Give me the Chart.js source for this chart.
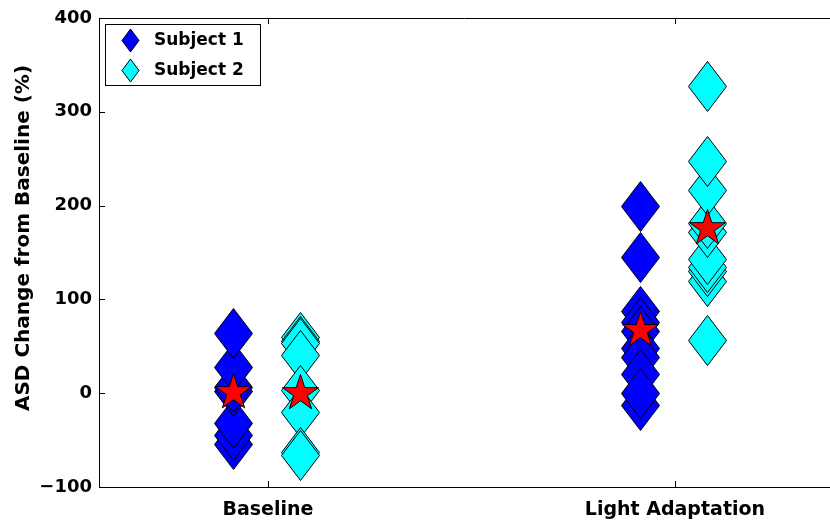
<!DOCTYPE html>
<html>
<head>
<meta charset="utf-8">
<script src="https://cdn.jsdelivr.net/npm/chart.js@4"></script>
<style>
  html, body { margin: 0; padding: 0; background: #fff; overflow: hidden; }
  canvas { display: block; }
</style>
</head>
<body>
<canvas id="asdChart" width="830" height="521"></canvas>
<script>
const categories = ['Baseline', 'Light Adaptation'];
const seriesNames = ['Subject 1', 'Subject 2'];
const yTicks = [-100, 0, 100, 200, 300, 400];

// ASD change (%) per trial
const subject1Baseline = [-54, -45, -32, 2, 7, 28, 64];
const subject1Light = [200, 145, 88, 76, 66, 48, 39, 20, -13, 0];
const subject2Baseline = [60, 56, 53, 41, 3, -20, -63, -66];
const subject2Light = [57, 120, 130, 135, 143, 172, 181, 217, 248, 327];

// means (red stars)
const subject1Means = [1, 67];
const subject2Means = [0, 176];

const FONT = 'DejaVu Sans';
const subjectOffsets = [-0.087, 0.078];
const colors = ['#0000ff', '#00ffff'];

function toPoints(values, catIndex, offset) {
    return values.map(v => ({ x: catIndex + 1 + offset, y: v }));
}

const subject1Points = toPoints(subject1Baseline, 0, subjectOffsets[0])
    .concat(toPoints(subject1Light, 1, subjectOffsets[0]));
const subject2Points = toPoints(subject2Baseline, 0, subjectOffsets[1])
    .concat(toPoints(subject2Light, 1, subjectOffsets[1]));
const meanPoints = subject1Means.map((m, i) => ({ x: i + 1 + subjectOffsets[0], y: m }))
    .concat(subject2Means.map((m, i) => ({ x: i + 1 + subjectOffsets[1], y: m })));

// shape paths
function diamondPath(ctx, x, y, w, h) {
    ctx.beginPath();
    ctx.moveTo(x, y - h / 2);
    ctx.lineTo(x + w / 2, y);
    ctx.lineTo(x, y + h / 2);
    ctx.lineTo(x - w / 2, y);
    ctx.closePath();
}

function starPath(ctx, x, y, R) {
    const r = R * 0.382;
    ctx.beginPath();
    for (let i = 0; i < 10; i++) {
        const rad = i % 2 ? r : R;
        const ang = -Math.PI / 2 + i * Math.PI / 5;
        const px = x + rad * Math.cos(ang);
        const py = y + rad * Math.sin(ang);
        if (i) ctx.lineTo(px, py); else ctx.moveTo(px, py);
    }
    ctx.closePath();
}

function drawMarker(ctx, m, x, y) {
    if (m.shape === 'star') starPath(ctx, x, y, m.r);
    else diamondPath(ctx, x, y, m.w, m.h);
    ctx.fillStyle = m.fill;
    ctx.fill();
    ctx.strokeStyle = '#000';
    ctx.lineWidth = 1;
    ctx.stroke();
}

// draws the big markers at the positions the scatter controller computed
const markers = {
    id: 'markers',
    afterDatasetsDraw(chart) {
        const ctx = chart.ctx;
        ctx.save();
        chart.data.datasets.forEach((ds, i) => {
            chart.getDatasetMeta(i).data.forEach(el => {
                drawMarker(ctx, ds.marker, Math.round(el.x) + 0.5, Math.round(el.y) + 0.5);
            });
        });
        ctx.restore();
    }
};

// frame top line and inward ticks, MATLAB style
const innerTicks = {
    id: 'innerTicks',
    beforeDatasetsDraw(chart) {
        const { ctx, chartArea: a, scales: { x, y } } = chart;
        ctx.save();
        ctx.strokeStyle = '#000';
        ctx.lineWidth = 1;
        ctx.beginPath();
        ctx.moveTo(a.left, a.top + 0.5);
        ctx.lineTo(a.right, a.top + 0.5);
        y.ticks.forEach(t => {
            const py = Math.round(y.getPixelForValue(t.value)) + 0.5;
            ctx.moveTo(a.left, py);
            ctx.lineTo(a.left + 6, py);
        });
        x.ticks.forEach(t => {
            const px = Math.round(x.getPixelForValue(t.value)) + 0.5;
            ctx.moveTo(px, a.bottom);
            ctx.lineTo(px, a.bottom - 6);
            ctx.moveTo(px, a.top);
            ctx.lineTo(px, a.top + 6);
        });
        ctx.stroke();
        ctx.restore();
    }
};

// boxed legend inside the axes, top left
const boxLegend = {
    id: 'boxLegend',
    afterDraw(chart) {
        const ctx = chart.ctx;
        ctx.save();
        ctx.fillStyle = '#fff';
        ctx.fillRect(105.5, 24.5, 155, 61);
        ctx.strokeStyle = '#000';
        ctx.lineWidth = 1;
        ctx.strokeRect(105.5, 24.5, 155, 61);
        seriesNames.forEach((name, i) => {
            const cy = 40 + i * 30;
            drawMarker(ctx, { shape: 'diamond', w: 17, h: 23, fill: colors[i] }, 130.5, cy + 0.5);
            ctx.font = `bold 17px "${FONT}"`;
            ctx.fillStyle = '#000';
            ctx.textBaseline = 'middle';
            ctx.fillText(name, 154, cy + 1);
        });
        ctx.restore();
    }
};

// y axis label
const yLabel = {
    id: 'yLabel',
    afterDraw(chart) {
        const ctx = chart.ctx;
        ctx.save();
        ctx.translate(24, 238);
        ctx.rotate(-Math.PI / 2);
        ctx.font = `bold 20px "${FONT}"`;
        ctx.fillStyle = '#000';
        ctx.textAlign = 'center';
        ctx.textBaseline = 'middle';
        ctx.fillText('ASD Change from Baseline (%)', 0, 0);
        ctx.restore();
    }
};

const ctx = document.getElementById('asdChart').getContext('2d');
new Chart(ctx, {
    type: 'scatter',
    data: {
        datasets: [
            { label: seriesNames[0], data: subject1Points, marker: { shape: 'diamond', w: 38, h: 50, fill: colors[0] } },
            { label: seriesNames[1], data: subject2Points, marker: { shape: 'diamond', w: 38, h: 50, fill: colors[1] } },
            { label: 'Mean', data: meanPoints, marker: { shape: 'star', r: 19, fill: '#ff0000' } }
        ]
    },
    options: {
        responsive: false,
        animation: false,
        events: [],
        elements: { point: { radius: 0 } },
        layout: { padding: { top: 18, right: 0, left: 0, bottom: 0 } },
        plugins: {
            legend: { display: false },
            tooltip: { enabled: false }
        },
        scales: {
            x: {
                type: 'linear',
                min: 0.585,
                max: 2.381,
                afterBuildTicks: s => { s.ticks = categories.map((c, i) => ({ value: i + 1 })); },
                afterFit: s => { s.height = 34; },
                grid: { display: false, drawTicks: false },
                border: { display: true, color: '#000', width: 1 },
                ticks: {
                    color: '#000',
                    font: { family: FONT, weight: 'bold', size: 19 },
                    padding: 12,
                    maxRotation: 0,
                    autoSkip: false,
                    callback: v => categories[v - 1]
                }
            },
            y: {
                min: -100,
                max: 400,
                afterBuildTicks: s => { s.ticks = yTicks.map(v => ({ value: v })); },
                afterFit: s => { s.width = 99; },
                grid: { display: false, drawTicks: false },
                border: { display: true, color: '#000', width: 1 },
                ticks: {
                    color: '#000',
                    font: { family: FONT, weight: 'bold', size: 18 },
                    padding: 7,
                    callback: v => v < 0 ? '\u2212' + Math.abs(v) : String(v)
                }
            }
        }
    },
    plugins: [innerTicks, markers, boxLegend, yLabel]
});
</script>
</body>
</html>
